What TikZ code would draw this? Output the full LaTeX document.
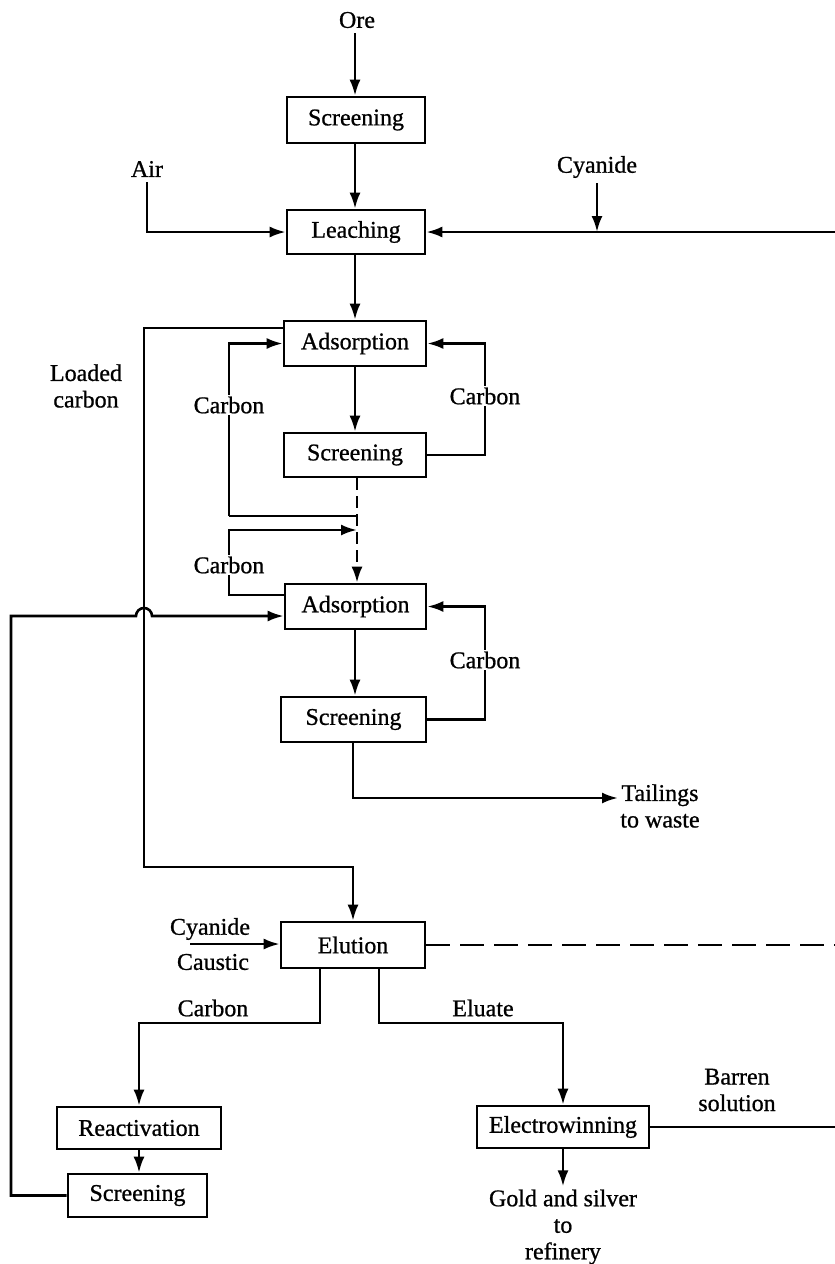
\documentclass[tikz,border=0pt]{standalone}
\usepackage{fontspec}
\setmainfont{Liberation Serif}[BoldFont=Liberation Serif, BoldFeatures={FakeBold=0.8}]
\usetikzlibrary{arrows.meta}
\begin{document}
\begin{tikzpicture}[x=1pt,y=-1pt,
  every node/.style={font=\fontsize{24}{26.5}\selectfont\bfseries, inner sep=0pt},
  box/.style={draw, line width=2.6pt, minimum height=44pt},
  lbl/.style={align=center},
  src/.style={inner ysep=5pt},
  wl/.style={fill=white, inner sep=2pt},
  ln/.style={line width=2.6pt},
  arr/.style={ln, -{Latex[length=16pt,width=11pt]}},
  dsv/.style={dash pattern=on 12pt off 6pt},
  dsh/.style={dash pattern=on 24pt off 10pt}]
\useasboundingbox (0,0) rectangle (835,1264);
% boxes
\node[box, minimum width=138pt, minimum height=46pt] (scr1) at (356,120) {Screening};
\node[box, minimum width=138pt] (leach) at (356,232) {Leaching};
\node[box, minimum width=142pt, minimum height=45pt] (ads1) at (355,343.5) {Adsorption};
\node[box, minimum width=142pt] (scr2) at (355,455) {Screening};
\node[box, minimum width=141pt, minimum height=45pt] (ads2) at (355.5,606.5) {Adsorption};
\node[box, minimum width=145pt, minimum height=45pt] (scr3) at (353.5,719.5) {Screening};
\node[box, minimum width=144pt, minimum height=46pt] (elut) at (353,945) {Elution};
\node[box, minimum width=164pt, minimum height=42pt] (react) at (139,1128) {Reactivation};
\node[box, minimum width=139pt, minimum height=43pt] (scr4) at (137.5,1195.5) {Screening};
\node[box, minimum width=172pt, minimum height=42pt] (elec) at (563,1127) {Electrowinning};
% texts
\node[src] (ore) at (357,20) {Ore};
\node[src] (air) at (147,169) {Air};
\node[src] (cyan1) at (597,167) {Cyanide};
\node (cyan2) at (210,929) {Cyanide};
\node (caust) at (213,962) {Caustic};
\node[lbl] (tail) at (660,806) {Tailings\\to waste};
\node[lbl, inner ysep=3pt] (gold) at (563,1227) {Gold and silver\\to\\refinery};
\node[lbl] (barren) at (737,1090) {Barren\\solution};
% coordinates
\coordinate (vx) at (355,0);
\coordinate (dx) at (357,0);
\coordinate (lcA) at (144,328);
\coordinate (lcB) at (144,867);
\coordinate (hp) at (11,616);
\coordinate (c1a) at (229,516);
\coordinate (c1b) at (229,343.5);
\coordinate (c2a) at (229,595);
\coordinate (c2b) at (229,530);
\coordinate (r1) at (485,0);
\coordinate (ec) at (320,1023);
\coordinate (ee) at (379,1023);
\coordinate (rc) at (835,232);
\coordinate (rd) at (835,946);
\coordinate (rb) at (835,1125);
\coordinate (ccs) at (190,944);
\coordinate (tl) at (618,798);
\coordinate (tc) at (353,798);
% connectors
\draw[arr] (ore.south -| vx) -- (scr1.north -| vx);
\draw[arr] (scr1.south -| vx) -- (leach.north -| vx);
\draw[arr] (air.south) |- (leach.west);
\draw[arr] (rc) -- (leach.east);
\draw[arr] (cyan1.south) -- (cyan1.south |- leach.east);
\draw[arr] (leach.south -| vx) -- (ads1.north -| vx);
\draw[arr] (ads1.south -| vx) -- (scr2.north -| vx);
\draw[arr, dsv] (scr2.south -| dx) -- (ads2.north -| dx);
\draw[arr] (c1a) -- (c1b) -- (ads1.west);
\draw[ln] (c1a -| dx) -- (c1a);
\draw[arr] (c2a -| ads2.west) -- (c2a) -- (c2b) -- (c2b -| dx);
\draw[arr] (scr2.east) -- (scr2.east -| r1) -- (ads1.east -| r1) -- (ads1.east);
\draw[arr] (scr3.east) -- (scr3.east -| r1) -- (ads2.east -| r1) -- (ads2.east);
\draw[arr] (ads2.south -| vx) -- (scr3.north -| vx);
\draw[arr] (scr3.south -| tc) -- (tc) -- (tl);
\draw[arr] (lcA -| ads1.west) -- (lcA) -- (lcB) -| (elut.north);
\draw[arr] (scr4.west) -| (hp) -- (136,616) arc[start angle=180, end angle=0, radius=8pt] -- (ads2.west |- hp);
\draw[arr] (ccs) -- (elut.west |- ccs);
\draw[ln, dsh] (elut.east) -- (elut.east -| rd);
\draw[arr] (elut.south -| ec) -- (ec) -| (react.north);
\draw[arr] (elut.south -| ee) -- (ee) -| (elec.north);
\draw[arr] (react.south) -- (react.south |- scr4.north);
\draw[ln] (elec.east) -- (elec.east -| rb);
\draw[arr] (elec.south) -- (gold.north);
% labels on lines
\node[wl] (lc1) at (229,405) {Carbon};
\node[wl] (lc2) at (229,565) {Carbon};
\node[wl] (lc3) at (485,396) {Carbon};
\node[wl] (lc4) at (485,660) {Carbon};
\node (lc5) at (213,1008) {Carbon};
\node (lel) at (483,1008) {Eluate};
\node[lbl] (loaded) at (86,386) {Loaded\\carbon};
\end{tikzpicture}
\end{document}
